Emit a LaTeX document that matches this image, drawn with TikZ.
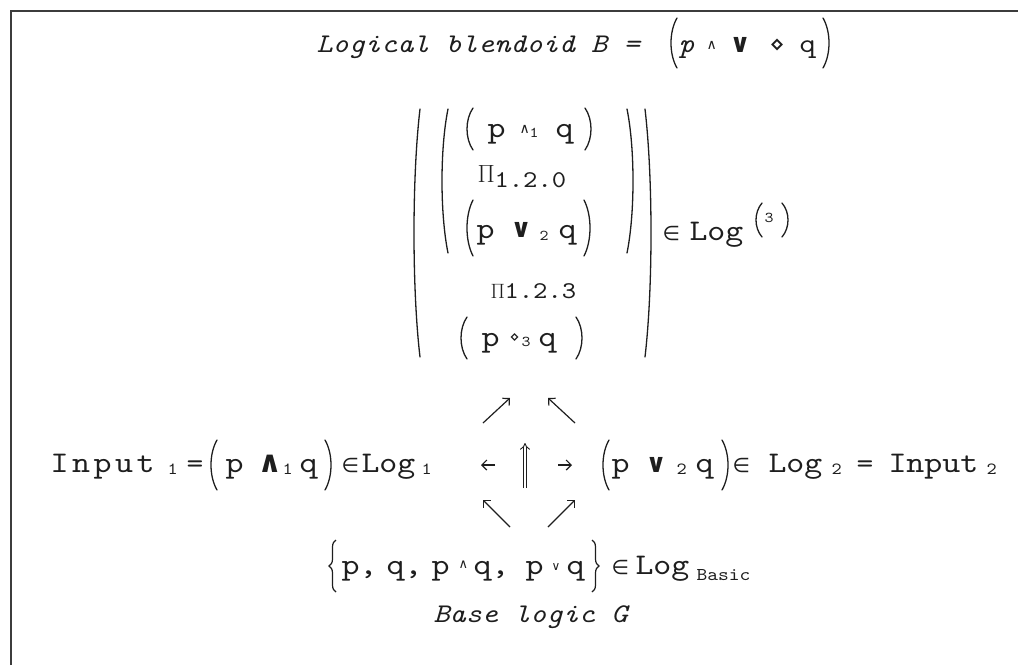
\documentclass[tikz,border=0pt]{standalone}
\usepackage{fontspec}
\setmainfont{lmmono10-regular.otf}[ItalicFont=lmmono10-italic.otf, FakeStretch=1.14]
\newfontfamily\symf{DejaVu Sans}
\usetikzlibrary{arrows.meta, decorations.pathreplacing}
\definecolor{cframe}{HTML}{3C3C3C}
\definecolor{cink}{HTML}{1E1E1E}
\newcommand\fs[1]{\fontsize{#1}{#1}\selectfont}
\tikzset{
  every picture/.style={x=1pt, y=-1pt, line width=1pt, color=cink},
  tx/.style={inner sep=0pt, anchor=base west, font=\fs{#1}},
  tx/.default=30,
  it/.style={tx=#1, font=\itshape\fs{#1}},
  sy/.style={tx=#1, font=\symf\fs{#1}},
  syb/.style={tx=#1, font=\symf\bfseries\fs{#1}},
  wide/.style={tx=#1, font=\addfontfeature{LetterSpace=12}\fs{#1}},
  parline/.style={line width=1.3pt, line cap=round},
  lpar/.pic={\draw[parline] (6,-#1) .. controls (-2,-0.45*#1) and (-2,0.45*#1) .. (6,#1);},
  rpar/.pic={\draw[parline] (-6,-#1) .. controls (2,-0.45*#1) and (2,0.45*#1) .. (-6,#1);},
  brace/.style={decorate, decoration={brace, amplitude=7pt}, line width=1.2pt},
  arr/.style={-{Straight Barb[length=5pt, width=10pt]}, line width=1.2pt},
  darr/.style={double, double distance=2.5pt, line width=0.9pt, -{Implies}},
}
\begin{document}
\begin{tikzpicture}
  \useasboundingbox (0,0) rectangle (1018,665);
  % frame, only top and left edge show
  \draw[cframe, line width=2pt] (11,665) -- (11,11) -- (1018,11);

  % title
  \node[it=27] (title) at (316,52) {Logical blendoid B =};
  \pic at (671,43) {lpar=25};
  \node[it=27] (tp) at (678,52) {p};
  \node[sy=14] (tand) at (706,49) {∧};
  \node[syb=26] (tor) at (729,52) {∨};
  \node[sy=24] (tdia) at (769,52) {⋄};
  \node[tx=27] (tq) at (799,52) {q};
  \pic at (829,43) {rpar=25};

  % the blend in Log^(3)
  \pic at (414,233) {lpar=124};
  \pic at (442,181) {lpar=72};
  \pic at (467,129) {lpar=21};
  \node[tx] (ap) at (487,137) {p};
  \node[sy=14] (aand) at (519,133) {∧};
  \node[tx=15] (ai) at (529,137) {1};
  \node[tx] (aq) at (555,137) {q};
  \pic at (591,129) {rpar=21};
  \node[tx=27] (m0) at (477,182) {$\Pi$};
  \node[tx=24] (m0i) at (494,187) {1.2.0};
  \pic at (467,228) {lpar=28};
  \node[tx] (bp) at (476,238) {p};
  \node[syb=26] (bor) at (510,237) {∨};
  \node[tx=15] (bi) at (539,240) {2};
  \node[tx] (bq) at (558,238) {q};
  \pic at (590,228) {rpar=28};
  \pic at (633,181) {rpar=72};
  \node[tx=20] (m3) at (490,298) {$\Pi$};
  \node[tx=24] (m3i) at (504,298) {1.2.3};
  \pic at (461,338) {lpar=21};
  \node[tx] (cp) at (481,346) {p};
  \node[sy=16] (cdia) at (509,342) {⋄};
  \node[tx=15] (ci) at (521,346) {3};
  \node[tx] (cq) at (538,346) {q};
  \pic at (582,338) {rpar=21};
  \pic at (651,233) {rpar=124};
  \node[sy=20] (bin) at (662,240) {∈};
  \node[tx] (blog) at (689,240) {Log};
  \pic at (756,220) {lpar=17};
  \node[tx=15] (bthree) at (764,222) {3};
  \pic at (788,220) {rpar=17};

  % inputs
  \node[wide=30] (in1) at (50,472) {Input};
  \node[tx=17] (in1i) at (167,474) {1};
  \node[tx=28] (in1eq) at (186,472) {=};
  \pic at (211,465) {lpar=25};
  \node[tx] (dp) at (225,472) {p};
  \node[syb=30] (dand) at (257,472) {∧};
  \node[tx=17] (di) at (282,474) {1};
  \node[tx] (dq) at (299,472) {q};
  \pic at (331,465) {rpar=25};
  \node[sy=20] (din) at (341,472) {∈};
  \node[tx] (dlog) at (361,472) {Log};
  \node[tx=17] (dlogi) at (421,474) {1};

  \pic at (603,465) {lpar=25};
  \node[tx] (ep) at (611,472) {p};
  \node[syb=26] (eor) at (645,472) {∨};
  \node[tx=17] (ei) at (676,474) {2};
  \node[tx] (eq) at (695,472) {q};
  \pic at (728,465) {rpar=25};
  \node[sy=20] (ein) at (732,472) {∈};
  \node[tx] (elog) at (768,472) {Log};
  \node[tx=17] (elogi) at (831,474) {2};
  \node[tx=28] (in2eq) at (856,472) {=};
  \node[tx] (in2) at (888,472) {Input};
  \node[tx=17] (in2i) at (986,474) {2};

  % arrows round the middle
  \coordinate (ulS) at (483,423); \coordinate (ulE) at (510,398);
  \coordinate (urS) at (575,423); \coordinate (urE) at (548,398);
  \coordinate (lS) at (495,465);  \coordinate (lE) at (481,465);
  \coordinate (rS) at (558,465);  \coordinate (rE) at (572,465);
  \coordinate (upS) at (525,488); \coordinate (upE) at (525,443);
  \coordinate (dlS) at (510,527); \coordinate (dlE) at (483,500);
  \coordinate (drS) at (548,527); \coordinate (drE) at (575,500);
  \draw[arr] (ulS) -- (ulE);
  \draw[arr] (urS) -- (urE);
  \draw[arr] (lS) -- (lE);
  \draw[arr] (rS) -- (rE);
  \draw[darr] (upS) -- (upE);
  \draw[arr] (dlS) -- (dlE);
  \draw[arr] (drS) -- (drE);

  % base logic
  \draw[brace] (336,592) -- (336,540);
  \node[tx] (fp1) at (341,574) {p,};
  \node[tx] (fq1) at (386,574) {q,};
  \node[tx] (fp2) at (431,574) {p};
  \node[sy=13] (fand) at (458,568) {∧};
  \node[tx] (fq2) at (473,574) {q,};
  \node[tx] (fp3) at (525,574) {p};
  \node[sy=12] (for) at (551,570) {∨};
  \node[tx] (fq3) at (566,574) {q};
  \draw[brace] (592,540) -- (592,592);
  \node[sy=20] (fin) at (611,574) {∈};
  \node[tx] (flog) at (635,574) {Log};
  \node[tx=18] (fbasic) at (696,580) {Basic};
  \node[it=27] (base) at (433,622) {Base logic G};
\end{tikzpicture}
\end{document}
